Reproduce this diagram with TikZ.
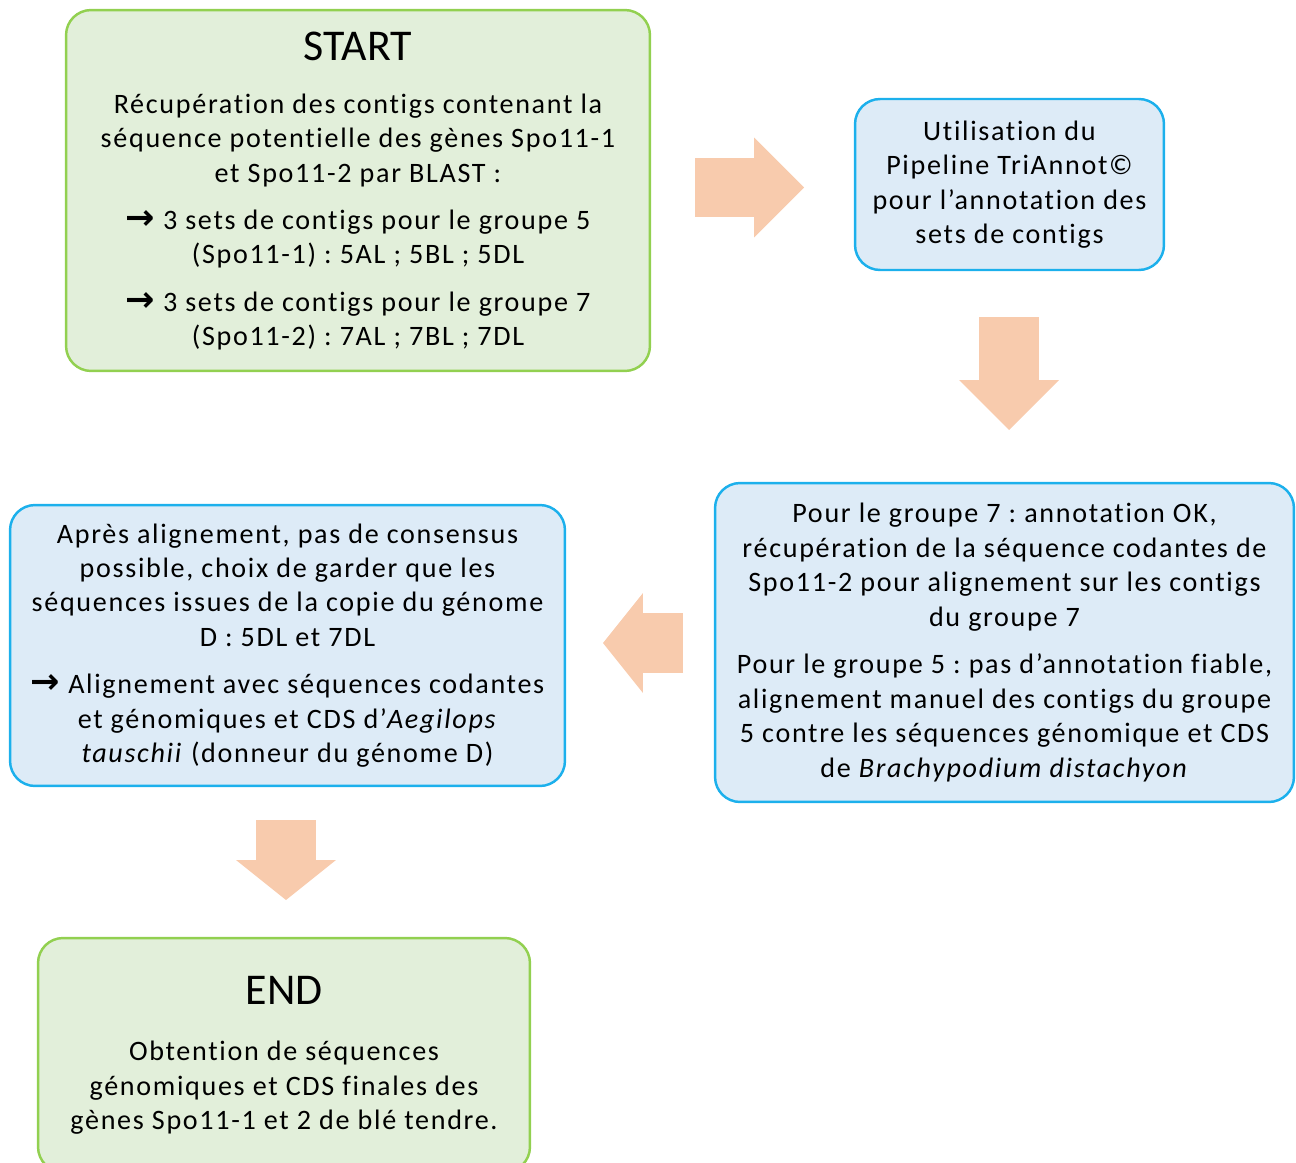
\documentclass[tikz,border=0pt]{standalone}
\usepackage{fontspec}
\setmainfont{Carlito}
\newfontfamily\bodyfam{Carlito}[LetterSpace=6,Ligatures=NoCommon]
\newfontfamily\arrowfont{DejaVu Sans}
\usetikzlibrary{arrows.meta}
\definecolor{greenfill}{HTML}{E2EFDA}
\definecolor{greenline}{HTML}{92D050}
\definecolor{bluefill}{HTML}{DDEBF7}
\definecolor{blueline}{HTML}{1CB0EC}
\definecolor{arrowfill}{HTML}{F8CBAD}
\newcommand{\boxfont}{\bodyfam\fontsize{16}{19.6}\selectfont}
\newcommand{\sendarrow}{{\arrowfont\bfseries\fontsize{20}{19.6}\selectfont →}}
\frenchspacing

\begin{document}
\begin{tikzpicture}
  [x=0.02cm,y=-0.02cm,
   greenbox/.style={rectangle,rounded corners=0.5cm,draw=greenline,fill=greenfill,
                    line width=1.4pt},
   bluebox/.style={rectangle,rounded corners=0.5cm,draw=blueline,fill=bluefill,
                   line width=1.4pt,align=center,font=\boxfont},
   title/.style={font=\fontsize{25}{30}\selectfont},
   body/.style={align=center,font=\boxfont},
   bigarrow/.style={draw=arrowfill,line width=1.2cm,
                    -{Triangle[length=#1,width=2cm,line width=0pt]}}]
  \useasboundingbox (0,0) rectangle (1296,1163);
  \node[greenbox,minimum width=11.68cm,minimum height=7.22cm] (start) at (358,190.5) {};
  \node[title] (starttitle) at (358,46) {START};
  \node[body] (starttext) at (358,222) {Récupération des contigs contenant la\\
    séquence potentielle des gènes Spo11-1\\
    et Spo11-2 par BLAST :\\[7.4pt]
    \sendarrow\ 3 sets de contigs pour le groupe 5\\
    (Spo11-1) : 5AL ; 5BL ; 5DL\\[7.4pt]
    \sendarrow\ 3 sets de contigs pour le groupe 7\\
    (Spo11-2) : 7AL ; 7BL ; 7DL};
  \node[bluebox,minimum width=6.18cm,minimum height=3.42cm] (pipe) at (1009.5,184.5)
    {Utilisation du\\Pipeline TriAnnot©\\pour l’annotation des\\sets de contigs};
  \node[bluebox,minimum width=11.58cm,minimum height=6.38cm] (grp) at (1004.5,642.5)
    {Pour le groupe 7 : annotation OK,\\
     récupération de la séquence codantes de\\
     Spo11-2 pour alignement sur les contigs\\
     du groupe 7\\[7.4pt]
     Pour le groupe 5 : pas d’annotation fiable,\\
     alignement manuel des contigs du groupe\\
     5 contre les séquences génomique et CDS\\
     de \textit{Brachypodium distachyon}};
  \node[bluebox,minimum width=11.1cm,minimum height=5.62cm] (choix) at (287.5,645.5)
    {Après alignement, pas de consensus\\
     possible, choix de garder que les\\
     séquences issues de la copie du génome\\
     D : 5DL et 7DL\\[7.4pt]
     \sendarrow\ Alignement avec séquences codantes\\
     et génomiques et CDS d’\textit{Aegilops}\\
     \textit{tauschii} (donneur du génome D)};
  \node[greenbox,minimum width=9.84cm,minimum height=4.68cm] (stop) at (284,1055) {};
  \node[title] (stoptitle) at (284,990) {END};
  \node[body] (stoptext) at (284,1088) {Obtention de séquences\\
    génomiques et CDS finales des\\
    gènes Spo11-1 et 2 de blé tendre.};
  % block arrows between the boxes
  \coordinate (a1s) at (695,187.5);
  \coordinate (a1e) at (804,187.5);
  \coordinate (a2s) at (1009,317);
  \coordinate (a2e) at (1009,430);
  \coordinate (a3s) at (683,643);
  \coordinate (a3e) at (603,643);
  \coordinate (a4s) at (286,820);
  \coordinate (a4e) at (286,900);
  \draw[bigarrow=1cm] (a1s) -- (a1e);
  \draw[bigarrow=1cm] (a2s) -- (a2e);
  \draw[bigarrow=0.8cm] (a3s) -- (a3e);
  \draw[bigarrow=0.8cm] (a4s) -- (a4e);
\end{tikzpicture}
\end{document}
